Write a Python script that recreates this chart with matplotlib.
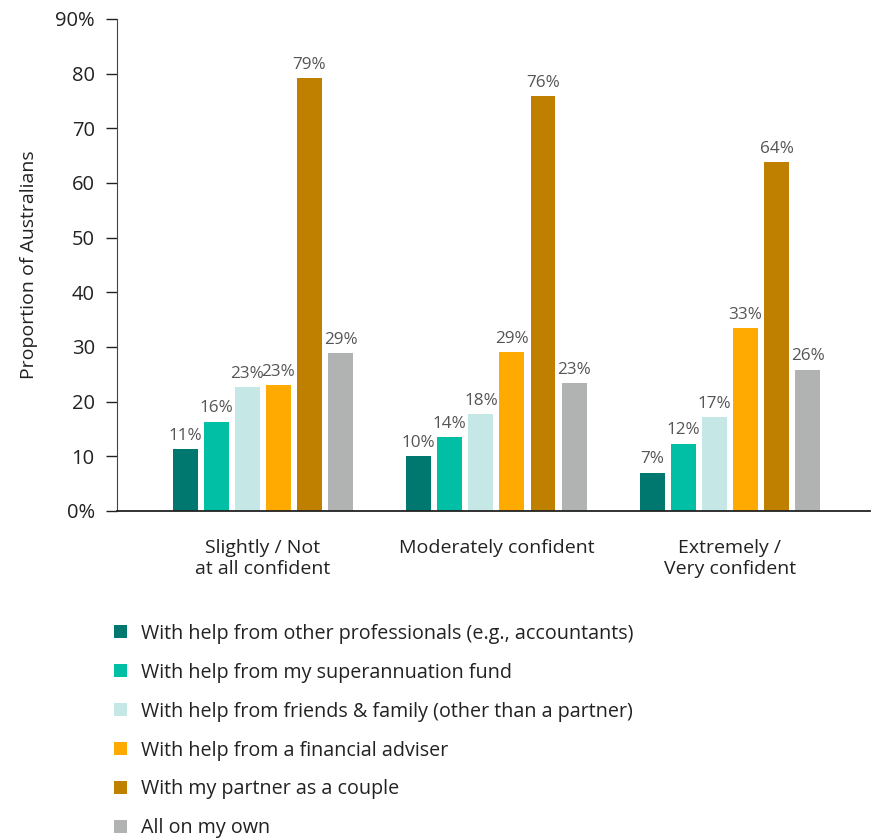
import numpy as np
import matplotlib.pyplot as plt
from matplotlib.patches import Patch

plt.rcParams['font.family'] = ['Open Sans', 'DejaVu Sans']

# Confidence groups and the ways people plan their retirement
groups = ['Slightly / Not\nat all confident', 'Moderately confident', 'Extremely /\nVery confident']
series = [
    'With help from other professionals (e.g., accountants)',
    'With help from my superannuation fund',
    'With help from friends & family (other than a partner)',
    'With help from a financial adviser',
    'With my partner as a couple',
    'All on my own',
]
colors = ['#00776F', '#00BFA5', '#C5E8E6', '#FFAA00', '#BF8000', '#B1B3B3']

# Share of Australians (%) per series, one value per group
professionals = [11.3, 10.0, 7.0]
super_fund = [16.3, 13.5, 12.3]
friends_family = [22.6, 17.7, 17.2]
adviser = [23.0, 29.0, 33.4]
partner = [79.2, 75.9, 63.8]
on_own = [28.9, 23.4, 25.8]
values = [professionals, super_fund, friends_family, adviser, partner, on_own]

fig = plt.figure(figsize=(8.75, 8.39), dpi=100)
ax = fig.add_axes([117 / 875, 1 - 511 / 839, 753 / 875, 492 / 839])

x = np.arange(len(groups))
width = 0.107
pitch = 0.133
for i, (vals, col) in enumerate(zip(values, colors)):
    pos = x + (i - 2.5) * pitch
    bars = ax.bar(pos, vals, width=width, color=col, label=series[i])
    for b, v in zip(bars, vals):
        ax.text(b.get_x() + b.get_width() / 2, v + 1.0, f'{int(v + 0.5)}%',
                ha='center', va='bottom', fontsize=12.3, color='#555555')

ax.set_xlim(-0.625, 2.6)
ax.set_ylim(0, 90)
ticks = np.arange(0, 91, 10)
ax.set_yticks(ticks)
ax.set_yticklabels(['0%'] + [str(t) for t in ticks[1:-1]] + ['90%'])
ax.set_xticks(x)
ax.set_xticklabels(groups)
ax.tick_params(axis='x', length=0, pad=20, labelsize=14, colors='#222222')
ax.tick_params(axis='y', length=8, width=1, pad=8, labelsize=14.5, colors='#222222')
for s in ['top', 'right']:
    ax.spines[s].set_visible(False)
ax.spines['left'].set_color('#444444')
ax.spines['bottom'].set_color('#222222')
ax.spines['bottom'].set_linewidth(1.3)
ax.set_ylabel('Proportion of Australians', fontsize=14, color='#222222', labelpad=12)

handles = [Patch(facecolor=c, edgecolor='none') for c in colors]
fig.legend(handles, series, loc='upper left', bbox_to_anchor=(96 / 875, 1 - 606 / 839),
           frameon=False, fontsize=14.2, handlelength=0.65, handleheight=0.65,
           handletextpad=0.75, labelspacing=0.96, labelcolor='#222222')

fig.savefig('out.png', dpi=100)
